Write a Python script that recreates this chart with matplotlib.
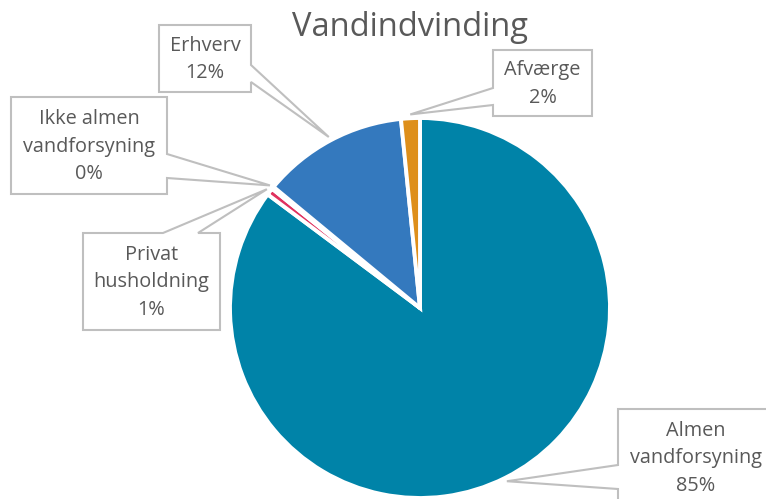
import numpy as np
import matplotlib
matplotlib.use("Agg")
import matplotlib.pyplot as plt
from matplotlib.patches import Polygon

# ---- data ----
categories = ["Almen\nvandforsyning", "Privat\nhusholdning", "Ikke almen\nvandforsyning", "Erhverv", "Afværge"]
values = [85.2, 0.6, 0.2, 12.4, 1.6]
colors = ["#0083A8", "#E0315E", "#A5A5A5", "#3479BE", "#DE8F1A"]
title = "Vandindvinding"

W, H = 766, 499
fig = plt.figure(figsize=(W / 100, H / 100), dpi=100)
ax = fig.add_axes([0, 0, 1, 1])

FONT = "Open Sans"
TXT = "#595959"
EDGE = "#BFBFBF"

cx, cy, R = 420, H - 308, 190
wedges, _ = ax.pie(values, colors=colors, startangle=90, counterclock=False,
                   center=(cx, cy), radius=R,
                   wedgeprops=dict(edgecolor="white", linewidth=2.8))
ax.set_xlim(0, W)
ax.set_ylim(0, H)
ax.set_aspect("equal", adjustable="box")
ax.axis("off")

total = sum(values)
pct = [f"{round(v / total * 100):.0f}%" for v in values]

# callout layouts (pixel coords, y down): box, side of pointer, two attach positions
layout = {
    "Almen\nvandforsyning": dict(box=(618, 409, 774, 506), side="left", att=(465, 489)),
    "Privat\nhusholdning": dict(box=(83, 233, 220, 330), side="top", att=(163, 198)),
    "Ikke almen\nvandforsyning": dict(box=(11, 97, 167, 194), side="right", att=(154, 178)),
    "Erhverv": dict(box=(159, 25, 251, 92), side="right", att=(65, 82)),
    "Afværge": dict(box=(493, 50, 592, 116), side="left", att=(88, 105)),
}

def Y(y):
    return H - y

for w, cat, p in zip(wedges, categories, pct):
    mid = np.deg2rad((w.theta1 + w.theta2) / 2)
    tx = cx + R * 1.02 * np.cos(mid)
    ty = cy + R * 1.02 * np.sin(mid)
    L = layout[cat]
    x0, y0, x1, y1 = L["box"]
    a, b = L["att"]
    if L["side"] == "right":
        pts = [(x0, y0), (x1, y0), (x1, a), None, (x1, b), (x1, y1), (x0, y1)]
    elif L["side"] == "left":
        pts = [(x0, y0), (x1, y0), (x1, y1), (x0, y1), (x0, b), None, (x0, a)]
    else:  # top
        pts = [(x0, y0), (a, y0), None, (b, y0), (x1, y0), (x1, y1), (x0, y1)]
    verts = [(tx, ty) if q is None else (q[0], Y(q[1])) for q in pts]
    ax.add_patch(Polygon(verts, closed=True, facecolor="white", edgecolor=EDGE,
                         linewidth=1.5, zorder=3))
    ax.text((x0 + x1) / 2, Y((y0 + y1) / 2 + 1), f"{cat}\n{p}", ha="center", va="center",
            fontsize=14.3, color=TXT, family=FONT, linespacing=1.5, zorder=4)

ax.text(410, Y(27), title, ha="center", va="center", fontsize=23.5, color=TXT, family=FONT)

fig.savefig("out.png", dpi=100)
